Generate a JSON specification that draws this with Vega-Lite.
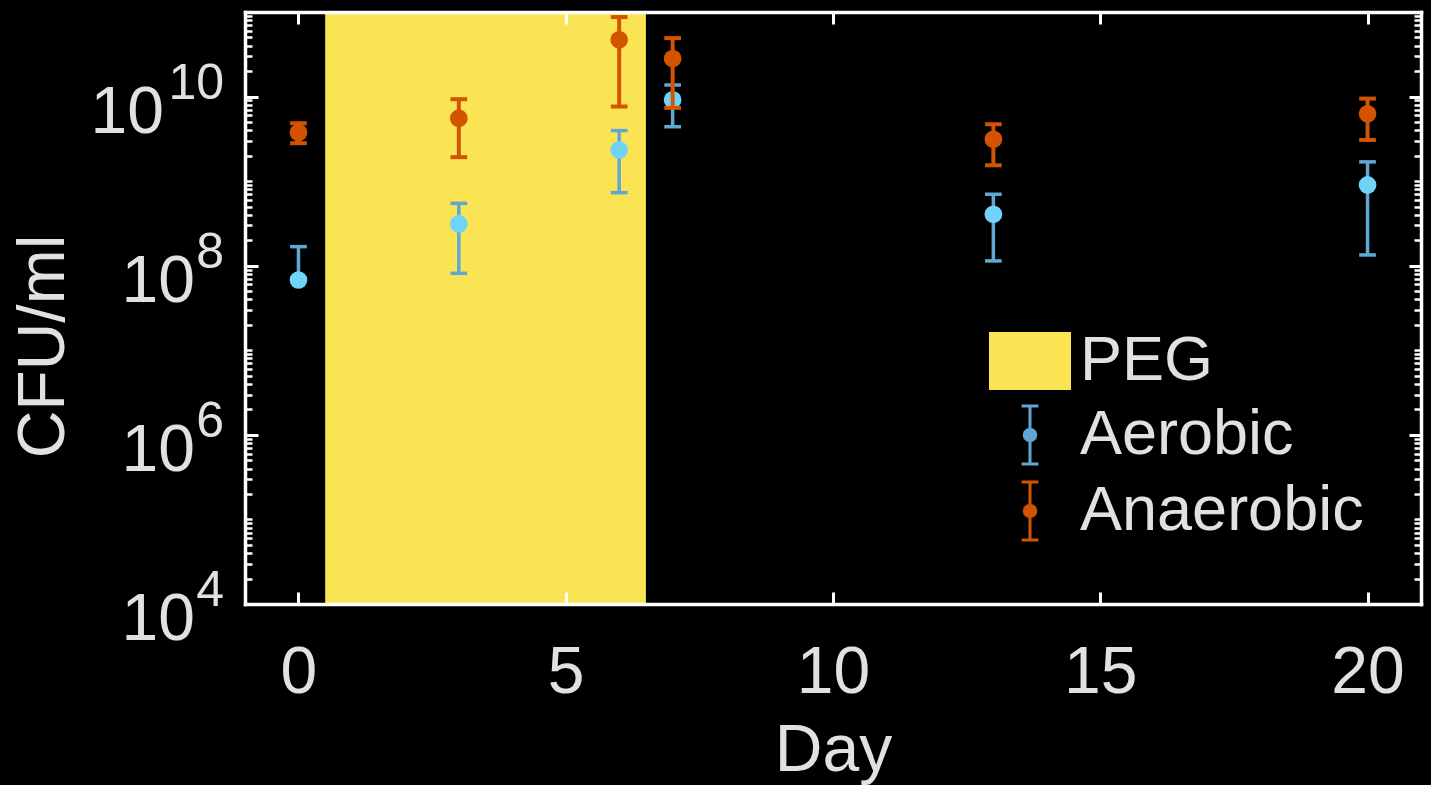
{
  "$schema": "https://vega.github.io/schema/vega-lite/v6.json",
  "background": "black",
  "autosize": {"type": "none"},
  "padding": {"left": 245, "top": 12, "right": 10, "bottom": 181},
  "width": 1176,
  "height": 592,
  "config": {"view": {"stroke": null}, "axis": {"grid": false}},
  "data": {"values": [
    {"day": 0, "series": "Aerobic", "mean": 6.78e7, "lo": 6.78e7, "hi": 1.68e8},
    {"day": 3, "series": "Aerobic", "mean": 3.12e8, "lo": 8.13e7, "hi": 5.47e8},
    {"day": 6, "series": "Aerobic", "mean": 2.34e9, "lo": 7.31e8, "hi": 3.96e9},
    {"day": 7, "series": "Aerobic", "mean": 9.14e9, "lo": 4.40e9, "hi": 1.37e10},
    {"day": 13, "series": "Aerobic", "mean": 4.06e8, "lo": 1.14e8, "hi": 7.0e8},
    {"day": 20, "series": "Aerobic", "mean": 9.02e8, "lo": 1.34e8, "hi": 1.69e9},
    {"day": 0, "series": "Anaerobic", "mean": 3.75e9, "lo": 2.81e9, "hi": 4.84e9},
    {"day": 3, "series": "Anaerobic", "mean": 5.55e9, "lo": 1.92e9, "hi": 9.31e9},
    {"day": 6, "series": "Anaerobic", "mean": 4.69e10, "lo": 7.62e9, "hi": 8.71e10},
    {"day": 7, "series": "Anaerobic", "mean": 2.82e10, "lo": 7.35e9, "hi": 4.91e10},
    {"day": 13, "series": "Anaerobic", "mean": 3.13e9, "lo": 1.54e9, "hi": 4.71e9},
    {"day": 20, "series": "Anaerobic", "mean": 6.25e9, "lo": 3.07e9, "hi": 9.46e9}
  ]},
  "resolve": {"axis": {"x": "independent", "y": "independent"}},
  "layer": [
    {
      "data": {"values": [{"start": 0.5, "end": 6.5, "label": "PEG"}]},
      "mark": {"type": "rect"},
      "encoding": {
        "x": {"field": "start", "type": "quantitative", "scale": {"domain": [-1, 21], "nice": false, "zero": false},
          "axis": {"orient": "bottom", "values": [0, 5, 10, 15, 20], "ticks": false, "domain": false, "grid": false,
            "labelFont": "Liberation Sans", "labelFontSize": 66, "labelColor": "#dfe2e1", "labelBaseline": "alphabetic",
            "labelPadding": 88, "labelFlush": false, "labelOverlap": false,
            "title": "Day", "titleFont": "Liberation Sans", "titleFontSize": 66, "titleFontWeight": "normal", "titleColor": "#dfe2e1",
            "titleBaseline": "alphabetic", "titleY": 166}},
        "x2": {"field": "end"},
        "fill": {"field": "label", "type": "nominal", "scale": {"domain": ["PEG"], "range": ["#fbe454"]},
          "legend": {"orient": "none", "legendX": 753.5, "legendY": 317.5, "title": null, "padding": 0,
            "symbolType": "M-1.414,-1L1.414,-1L1.414,1L-1.414,1Z", "symbolSize": 3364, "symbolStrokeWidth": 0,
            "labelFont": "Liberation Sans", "labelFontSize": 63, "labelColor": "#dfe2e1", "labelOffset": 18.5, "labelLimit": 600}}
      }
    },
    {
      "transform": [{"filter": "datum.series === 'Aerobic'"}],
      "mark": {"type": "rule", "strokeWidth": 3.5},
      "encoding": {
        "x": {"field": "day", "type": "quantitative", "scale": {"domain": [-1, 21], "nice": false, "zero": false},
          "axis": {"orient": "bottom", "values": [0, 5, 10, 15, 20], "labels": false, "title": null, "grid": false,
            "tickSize": -12, "tickWidth": 3, "tickColor": "white",
            "domain": true, "domainColor": "white", "domainWidth": 3.5, "domainCap": "square", "zindex": 2}},
        "y": {"field": "lo", "type": "quantitative", "scale": {"type": "log", "domain": [1e4, 1e11], "nice": false},
          "axis": {"orient": "left", "values": [1e4, 1e6, 1e8, 1e10], "labels": false, "grid": false,
            "tickSize": -13, "tickWidth": 3, "tickColor": "white",
            "domain": true, "domainColor": "white", "domainWidth": 3.5, "domainCap": "square", "zindex": 2,
            "title": "CFU/ml", "titleFont": "Liberation Sans", "titleFontSize": 66, "titleFontWeight": "normal", "titleColor": "#dfe2e1",
            "titleAngle": -90, "titleBaseline": "alphabetic", "titleAlign": "center", "titleX": -182, "titleY": 334}},
        "y2": {"field": "hi"},
        "stroke": {"field": "series", "type": "nominal", "scale": {"domain": ["Aerobic", "Anaerobic"], "range": ["#5fa8d3", "#d35400"]},
          "legend": {"orient": "none", "legendX": 753.5, "legendY": 391.5, "title": null, "padding": 0, "rowPadding": 5,
            "symbolType": "M0,-1L0,1M-0.29,-1L0.29,-1M-0.29,1L0.29,1M0.2,0L0.173,0.1L0.1,0.173L0,0.2L-0.1,0.173L-0.173,0.1L-0.2,0L-0.173,-0.1L-0.1,-0.173L0,-0.2L0.1,-0.173L0.173,-0.1ZM0.13,0L0.113,0.065L0.065,0.113L0,0.13L-0.065,0.113L-0.113,0.065L-0.13,0L-0.113,-0.065L-0.065,-0.113L0,-0.13L0.065,-0.113L0.113,-0.065ZM0.06,0L0,0.06L-0.06,0L0,-0.06Z",
            "symbolSize": 3364, "symbolStrokeWidth": 3, "symbolFillColor": "transparent",
            "labelFont": "Liberation Sans", "labelFontSize": 63, "labelColor": "#dfe2e1", "labelOffset": 18.5, "labelLimit": 600}}
      }
    },
    {
      "transform": [{"filter": "datum.series === 'Aerobic'"}],
      "mark": {"type": "point", "shape": "M-1,0L1,0", "size": 279, "filled": false, "strokeWidth": 3.5, "opacity": 1},
      "encoding": {
        "x": {"field": "day", "type": "quantitative", "scale": {"domain": [-1, 21], "nice": false, "zero": false},
          "axis": {"orient": "top", "values": [0, 5, 10, 15, 20], "labels": false, "title": null, "grid": false,
            "tickSize": -12, "tickWidth": 3, "tickColor": "white",
            "domain": true, "domainColor": "white", "domainWidth": 3.5, "domainCap": "square", "zindex": 2}},
        "y": {"field": "hi", "type": "quantitative", "scale": {"type": "log", "domain": [1e4, 1e11], "nice": false},
          "axis": {"orient": "left", "values": [2e4,3e4,4e4,5e4,6e4,7e4,8e4,9e4,1e5,2e5,3e5,4e5,5e5,6e5,7e5,8e5,9e5,2e6,3e6,4e6,5e6,6e6,7e6,8e6,9e6,1e7,2e7,3e7,4e7,5e7,6e7,7e7,8e7,9e7,2e8,3e8,4e8,5e8,6e8,7e8,8e8,9e8,1e9,2e9,3e9,4e9,5e9,6e9,7e9,8e9,9e9,2e10,3e10,4e10,5e10,6e10,7e10,8e10,9e10],
            "labels": false, "title": null, "grid": false, "domain": false,
            "tickSize": -7, "tickWidth": 2.5, "tickColor": "white", "zindex": 2}},
        "stroke": {"field": "series", "type": "nominal", "scale": {"domain": ["Aerobic", "Anaerobic"], "range": ["#5fa8d3", "#d35400"]}}
      }
    },
    {
      "transform": [{"filter": "datum.series === 'Aerobic'"}],
      "mark": {"type": "point", "shape": "M-1,0L1,0", "size": 279, "filled": false, "strokeWidth": 3.5, "opacity": 1},
      "encoding": {
        "x": {"field": "day", "type": "quantitative", "scale": {"domain": [-1, 21], "nice": false, "zero": false}, "axis": null},
        "y": {"field": "lo", "type": "quantitative", "scale": {"type": "log", "domain": [1e4, 1e11], "nice": false},
          "axis": {"orient": "right", "values": [1e4, 1e6, 1e8, 1e10], "labels": false, "title": null, "grid": false,
            "tickSize": -12, "tickWidth": 3, "tickColor": "white",
            "domain": true, "domainColor": "white", "domainWidth": 3.5, "domainCap": "square", "zindex": 2}},
        "stroke": {"field": "series", "type": "nominal", "scale": {"domain": ["Aerobic", "Anaerobic"], "range": ["#5fa8d3", "#d35400"]}}
      }
    },
    {
      "transform": [{"filter": "datum.series === 'Aerobic'"}],
      "mark": {"type": "point", "shape": "circle", "size": 313, "filled": true, "opacity": 1},
      "encoding": {
        "x": {"field": "day", "type": "quantitative", "scale": {"domain": [-1, 21], "nice": false, "zero": false}, "axis": null},
        "y": {"field": "mean", "type": "quantitative", "scale": {"type": "log", "domain": [1e4, 1e11], "nice": false},
          "axis": {"orient": "right", "values": [2e4,3e4,4e4,5e4,6e4,7e4,8e4,9e4,1e5,2e5,3e5,4e5,5e5,6e5,7e5,8e5,9e5,2e6,3e6,4e6,5e6,6e6,7e6,8e6,9e6,1e7,2e7,3e7,4e7,5e7,6e7,7e7,8e7,9e7,2e8,3e8,4e8,5e8,6e8,7e8,8e8,9e8,1e9,2e9,3e9,4e9,5e9,6e9,7e9,8e9,9e9,2e10,3e10,4e10,5e10,6e10,7e10,8e10,9e10],
            "labels": false, "title": null, "grid": false, "domain": false,
            "tickSize": -7, "tickWidth": 2.5, "tickColor": "white", "zindex": 2}},
        "color": {"field": "series", "type": "nominal", "scale": {"domain": ["Aerobic", "Anaerobic"], "range": ["#70d4fa", "#d35400"]}, "legend": null}
      }
    },
    {
      "transform": [{"filter": "datum.series === 'Anaerobic'"}],
      "mark": {"type": "rule", "strokeWidth": 4},
      "encoding": {
        "x": {"field": "day", "type": "quantitative", "scale": {"domain": [-1, 21], "nice": false, "zero": false}, "axis": null},
        "y": {"field": "lo", "type": "quantitative", "scale": {"type": "log", "domain": [1e4, 1e11], "nice": false}, "axis": null},
        "y2": {"field": "hi"},
        "stroke": {"field": "series", "type": "nominal", "scale": {"domain": ["Aerobic", "Anaerobic"], "range": ["#5fa8d3", "#d35400"]}}
      }
    },
    {
      "transform": [{"filter": "datum.series === 'Anaerobic'"}],
      "mark": {"type": "point", "shape": "M-1,0L1,0", "size": 279, "filled": false, "strokeWidth": 4, "opacity": 1},
      "encoding": {
        "x": {"field": "day", "type": "quantitative", "scale": {"domain": [-1, 21], "nice": false, "zero": false}, "axis": null},
        "y": {"field": "hi", "type": "quantitative", "scale": {"type": "log", "domain": [1e4, 1e11], "nice": false}, "axis": null},
        "stroke": {"field": "series", "type": "nominal", "scale": {"domain": ["Aerobic", "Anaerobic"], "range": ["#5fa8d3", "#d35400"]}}
      }
    },
    {
      "transform": [{"filter": "datum.series === 'Anaerobic'"}],
      "mark": {"type": "point", "shape": "M-1,0L1,0", "size": 279, "filled": false, "strokeWidth": 4, "opacity": 1},
      "encoding": {
        "x": {"field": "day", "type": "quantitative", "scale": {"domain": [-1, 21], "nice": false, "zero": false}, "axis": null},
        "y": {"field": "lo", "type": "quantitative", "scale": {"type": "log", "domain": [1e4, 1e11], "nice": false}, "axis": null},
        "stroke": {"field": "series", "type": "nominal", "scale": {"domain": ["Aerobic", "Anaerobic"], "range": ["#5fa8d3", "#d35400"]}}
      }
    },
    {
      "transform": [{"filter": "datum.series === 'Anaerobic'"}],
      "mark": {"type": "point", "shape": "circle", "size": 313, "filled": true, "opacity": 1},
      "encoding": {
        "x": {"field": "day", "type": "quantitative", "scale": {"domain": [-1, 21], "nice": false, "zero": false}, "axis": null},
        "y": {"field": "mean", "type": "quantitative", "scale": {"type": "log", "domain": [1e4, 1e11], "nice": false}, "axis": null},
        "color": {"field": "series", "type": "nominal", "scale": {"domain": ["Aerobic", "Anaerobic"], "range": ["#70d4fa", "#d35400"]}, "legend": null}
      }
    },
    {
      "data": {"values": [
        {"v": 1e4, "base": "10", "exp": "4"},
        {"v": 1e6, "base": "10", "exp": "6"},
        {"v": 1e8, "base": "10", "exp": "8"},
        {"v": 1e10, "base": "10", "exp": "10"}
      ]},
      "mark": {"type": "text", "font": "Liberation Sans", "fontSize": 50, "color": "#dfe2e1", "align": "right", "baseline": "alphabetic", "dx": -21, "dy": 2.3},
      "encoding": {
        "x": {"datum": -1, "type": "quantitative", "scale": {"domain": [-1, 21], "nice": false, "zero": false}, "axis": null},
        "y": {"field": "v", "type": "quantitative", "scale": {"type": "log", "domain": [1e4, 1e11], "nice": false}, "axis": null},
        "text": {"field": "exp"}
      }
    },
    {
      "data": {"values": [
        {"v": 1e4, "base": "10", "exp": "4"},
        {"v": 1e6, "base": "10", "exp": "6"},
        {"v": 1e8, "base": "10", "exp": "8"}
      ]},
      "mark": {"type": "text", "font": "Liberation Sans", "fontSize": 66, "color": "#dfe2e1", "align": "right", "baseline": "alphabetic", "dx": -50, "dy": 36},
      "encoding": {
        "x": {"datum": -1, "type": "quantitative", "scale": {"domain": [-1, 21], "nice": false, "zero": false}, "axis": null},
        "y": {"field": "v", "type": "quantitative", "scale": {"type": "log", "domain": [1e4, 1e11], "nice": false}, "axis": null},
        "text": {"field": "base"}
      }
    },
    {
      "data": {"values": [
        {"v": 1e10, "base": "10", "exp": "10"}
      ]},
      "mark": {"type": "text", "font": "Liberation Sans", "fontSize": 66, "color": "#dfe2e1", "align": "right", "baseline": "alphabetic", "dx": -81, "dy": 36},
      "encoding": {
        "x": {"datum": -1, "type": "quantitative", "scale": {"domain": [-1, 21], "nice": false, "zero": false}, "axis": null},
        "y": {"field": "v", "type": "quantitative", "scale": {"type": "log", "domain": [1e4, 1e11], "nice": false}, "axis": null},
        "text": {"field": "base"}
      }
    }
  ]
}
